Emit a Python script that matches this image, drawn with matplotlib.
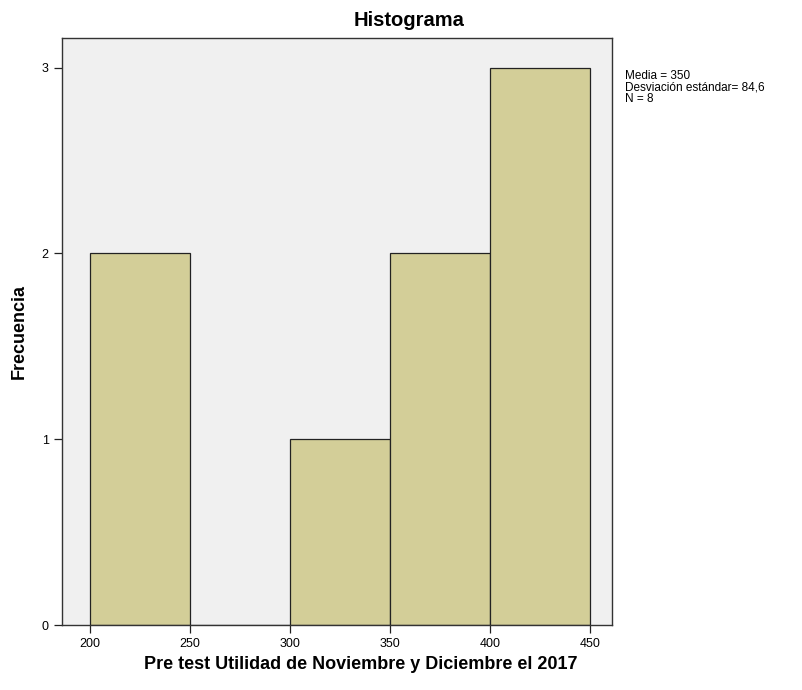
import matplotlib

matplotlib.use("Agg")

import matplotlib.pyplot as plt  # noqa: E402

plt.rcParams["font.family"] = ["Liberation Sans", "DejaVu Sans"]

# histogram bins and counts
bin_left = [200, 250, 300, 350, 400]
bin_width = 50
counts = [2, 0, 1, 2, 3]
x_ticks = [200, 250, 300, 350, 400, 450]
y_ticks = [0, 1, 2, 3]
stats_lines = ["Media = 350", "Desviación estándar= 84,6", "N = 8"]

fig = plt.figure(figsize=(8.03, 6.90), dpi=100)
ax = fig.add_axes([62 / 803, 1 - 625 / 690, 550 / 803, 587 / 690])
ax.set_facecolor("#f0f0f0")

ax.bar(bin_left, counts, width=bin_width, align="edge",
       color="#d3ce98", edgecolor="#222222", linewidth=0.9)

ax.set_xlim(186, 461)
ax.set_ylim(0, 3.16)
ax.set_xticks(x_ticks)
ax.set_yticks(y_ticks)
ax.tick_params(axis="both", labelsize=9, direction="out", length=6,
               width=0.9, color="#222222")
for s in ax.spines.values():
    s.set_color("#333333")
    s.set_linewidth(1.0)

# SPSS centres the title on the whole chart, not on the plot area
fig.text(409 / 803, 1 - 20 / 690, "Histograma", fontsize=14.5,
         fontweight="bold", ha="center", va="center")
ax.set_xlabel("Pre test Utilidad de Noviembre y Diciembre el 2017",
              fontsize=13, fontweight="bold", labelpad=4)
ax.xaxis.label.set_x(0.544)
ax.set_ylabel("Frecuencia", fontsize=13, fontweight="bold", labelpad=10)

fig.text(625 / 803, 1 - 70 / 690, "\n".join(stats_lines), fontsize=8.5,
         va="top", ha="left", linespacing=0.95)

fig.savefig("out.png", dpi=100)
